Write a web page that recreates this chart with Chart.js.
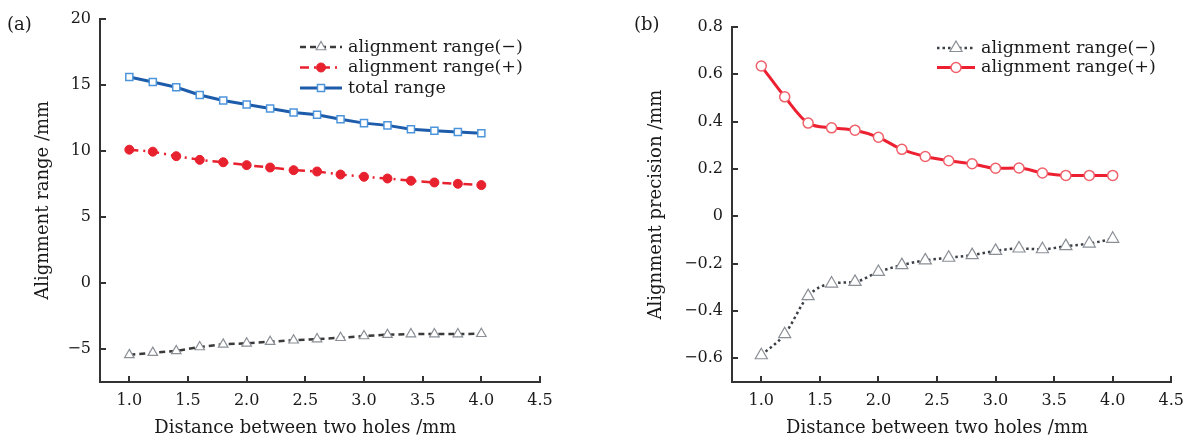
<!DOCTYPE html>
<html><head><meta charset="utf-8">
<script src="https://cdn.jsdelivr.net/npm/chart.js@4.4.1/dist/chart.umd.min.js"></script>
<style>
html,body{margin:0;padding:0;background:#fff;}
#wrap{position:relative;width:1193px;height:441px;overflow:hidden;background:#fff;}
.panel{position:absolute;top:0;height:441px;}
.lab{position:absolute;top:14px;font-family:'DejaVu Serif';font-size:18px;color:#1a1a1a;line-height:20px;}
</style></head><body>
<div id="wrap">
<div class="panel" style="left:0;width:600px"><canvas id="ca" width="600" height="441"></canvas></div>
<div class="panel" style="left:600px;width:593px"><canvas id="cb" width="593" height="441"></canvas></div>
<div class="lab" style="left:7px">(a)</div>
<div class="lab" style="left:634px">(b)</div>
</div>
<script>
// ---- data ----
const distance = [1.0,1.2,1.4,1.6,1.8,2.0,2.2,2.4,2.6,2.8,3.0,3.2,3.4,3.6,3.8,4.0];
const rangeMinus = [-5.45,-5.28,-5.15,-4.85,-4.65,-4.57,-4.45,-4.34,-4.25,-4.15,-4.02,-3.92,-3.87,-3.87,-3.87,-3.85];
const rangePlus  = [10.08,9.93,9.59,9.31,9.13,8.91,8.73,8.53,8.43,8.20,8.03,7.90,7.73,7.60,7.50,7.40];
const totalRange = [15.58,15.20,14.80,14.22,13.80,13.50,13.20,12.90,12.72,12.39,12.09,11.92,11.62,11.51,11.42,11.32];
const precisionMinus = [-0.587,-0.498,-0.337,-0.284,-0.277,-0.235,-0.206,-0.186,-0.175,-0.164,-0.146,-0.136,-0.139,-0.126,-0.115,-0.095];
const precisionPlus  = [0.635,0.505,0.394,0.374,0.364,0.334,0.283,0.253,0.235,0.222,0.203,0.204,0.183,0.173,0.173,0.173];
const xTickValues = [1.0,1.5,2.0,2.5,3.0,3.5,4.0,4.5];
const yTicksA = [-5,0,5,10,15,20];
const yTicksB = [-0.6,-0.4,-0.2,0,0.2,0.4,0.6,0.8];
const labelsA = ['alignment range(\u2212)','alignment range(+)','total range'];
const labelsB = ['alignment range(\u2212)','alignment range(+)'];
const xTitle = 'Distance between two holes /mm';
const yTitleA = 'Alignment range /mm';
const yTitleB = 'Alignment precision /mm';

const FONT = 'DejaVu Serif';
const TXT = '#1a1a1a';
const AX = '#333';
const pts = arr => distance.map((d,i)=>({x:d,y:arr[i]}));
const minus = s => String(s).replace('-', '\u2212');

function drawMarker(ctx, style, x, y, r) {
  ctx.beginPath();
  if (style === 'circle') ctx.arc(x, y, r, 0, Math.PI*2);
  else if (style === 'triangle') {
    ctx.moveTo(x, y - r);
    ctx.lineTo(x + 0.866*r, y + 0.5*r);
    ctx.lineTo(x - 0.866*r, y + 0.5*r);
    ctx.closePath();
  } else if (style === 'rect') {
    const s = r*Math.SQRT1_2; ctx.rect(x-s, y-s, 2*s, 2*s);
  }
  ctx.fill(); ctx.stroke();
}

const decor = {
  id: 'decor',
  afterDraw(chart, args, opts) {
    const ctx = chart.ctx;
    const xs = chart.scales.x, ys = chart.scales.y;
    ctx.save();
    // inward ticks
    ctx.strokeStyle = AX; ctx.lineWidth = 2; ctx.setLineDash([]);
    xs.ticks.forEach(t => {
      const px = Math.round(xs.getPixelForValue(t.value));
      ctx.beginPath(); ctx.moveTo(px, chart.chartArea.bottom); ctx.lineTo(px, chart.chartArea.bottom - 6); ctx.stroke();
    });
    ys.ticks.forEach(t => {
      const py = Math.round(ys.getPixelForValue(t.value));
      ctx.beginPath(); ctx.moveTo(chart.chartArea.left, py); ctx.lineTo(chart.chartArea.left + 6, py); ctx.stroke();
    });
    // x title centered on data range
    ctx.font = '18px "' + FONT + '"';
    ctx.fillStyle = TXT; ctx.textAlign = 'center'; ctx.textBaseline = 'middle';
    const cx = (xs.getPixelForValue(distance[0]) + xs.getPixelForValue(distance[distance.length-1]))/2;
    ctx.fillText(xTitle, cx, 428);
    // legend
    const L = opts.legend;
    chart.data.datasets.forEach((ds, i) => {
      const y = L.y + i*L.dy;
      ctx.strokeStyle = ds.borderColor; ctx.lineWidth = ds.borderWidth;
      ctx.setLineDash(ds.borderDash || []);
      ctx.beginPath(); ctx.moveTo(L.x, y); ctx.lineTo(L.x + L.w, y); ctx.stroke();
      ctx.setLineDash([]);
      ctx.fillStyle = ds.pointBackgroundColor; ctx.strokeStyle = ds.pointBorderColor; ctx.lineWidth = ds.pointBorderWidth;
      drawMarker(ctx, ds.pointStyle, L.x + L.w/2, y, ds.pointRadius);
      ctx.fillStyle = TXT; ctx.textAlign = 'left'; ctx.textBaseline = 'middle';
      ctx.font = '17.5px "' + FONT + '"';
      ctx.fillText(ds.label, L.x + L.w + 6, y);
    });
    ctx.restore();
  }
};

function scales(yMin, yMax, yTicks, yTitle, yWidth, yFmt, titlePad) {
  const font = {family: FONT, size: 16};
  return {
    x: {
      type: 'linear', min: 0.75, max: 4.5,
      afterBuildTicks: s => { s.ticks = xTickValues.map(v => ({value: v})); },
      afterFit: s => { s.height = 59; },
      grid: {display: false, drawTicks: false},
      border: {display: true, color: AX, width: 2},
      ticks: {color: TXT, font, padding: 9, autoSkip: false, maxRotation: 0, callback: v => Number(v).toFixed(1)}
    },
    y: {
      type: 'linear', min: yMin, max: yMax,
      afterBuildTicks: s => { s.ticks = yTicks.map(v => ({value: v})); },
      afterFit: s => { s.width = yWidth; },
      grid: {display: false, drawTicks: false},
      border: {display: true, color: AX, width: 2},
      ticks: {color: TXT, font, padding: 9, autoSkip: false, callback: yFmt},
      title: {display: true, text: yTitle, color: TXT, font: {family: FONT, size: 18}, padding: {top: titlePad, bottom: 0}}
    }
  };
}

const common = (extra) => Object.assign({
  responsive: false, animation: false,
  plugins: {legend: {display: false}, tooltip: {enabled: false}},
}, extra);

new Chart(document.getElementById('ca'), {
  type: 'line',
  data: {datasets: [
    {label: labelsA[0], data: pts(rangeMinus), borderColor: '#3a3a3a', borderWidth: 2.5, borderDash: [6,4],
     pointStyle: 'triangle', pointRadius: 5.5, pointBackgroundColor: '#fff', pointBorderColor: '#8a8f96', pointBorderWidth: 1.2, tension: 0},
    {label: labelsA[1], data: pts(rangePlus), borderColor: '#e8212e', borderWidth: 2.5, borderDash: [9,5,2,5],
     pointStyle: 'circle', pointRadius: 4.5, pointBackgroundColor: '#e8212e', pointBorderColor: '#e8212e', pointBorderWidth: 1, tension: 0},
    {label: labelsA[2], data: pts(totalRange), borderColor: '#1c5cab', borderWidth: 3, borderDash: [],
     pointStyle: 'rect', pointRadius: 5, pointBackgroundColor: '#fff', pointBorderColor: '#4d95db', pointBorderWidth: 1.5, tension: 0}
  ]},
  options: common({
    layout: {padding: {top: 17, right: 60, left: 0, bottom: 0}},
    scales: scales(-7.5, 20, yTicksA, yTitleA, 100, v => minus(v), 33),
    plugins: {legend: {display: false}, tooltip: {enabled: false}, decor: {legend: {x: 300, y: 47, dy: 20.5, w: 42}}}
  }),
  plugins: [decor]
});

new Chart(document.getElementById('cb'), {
  type: 'line',
  data: {datasets: [
    {label: labelsB[0], data: pts(precisionMinus), borderColor: '#3a3f46', borderWidth: 2.5, borderDash: [2.5,3],
     pointStyle: 'triangle', pointRadius: 7, pointBackgroundColor: '#fff', pointBorderColor: '#8a8f96', pointBorderWidth: 1.2,
     cubicInterpolationMode: 'monotone'},
    {label: labelsB[1], data: pts(precisionPlus), borderColor: '#ec2030', borderWidth: 3, borderDash: [],
     pointStyle: 'circle', pointRadius: 5, pointBackgroundColor: '#fff', pointBorderColor: '#f0606a', pointBorderWidth: 1.5,
     cubicInterpolationMode: 'monotone'}
  ]},
  options: common({
    layout: {padding: {top: 27, right: 20, left: 0, bottom: 0}},
    scales: scales(-0.7, 0.8, yTicksB, yTitleB, 132, v => (Math.abs(v) < 1e-9 ? '0' : minus(Number(v).toFixed(1))), 46),
    plugins: {legend: {display: false}, tooltip: {enabled: false}, decor: {legend: {x: 337, y: 48, dy: 19.5, w: 38}}}
  }),
  plugins: [decor]
});
</script>
</body></html>
